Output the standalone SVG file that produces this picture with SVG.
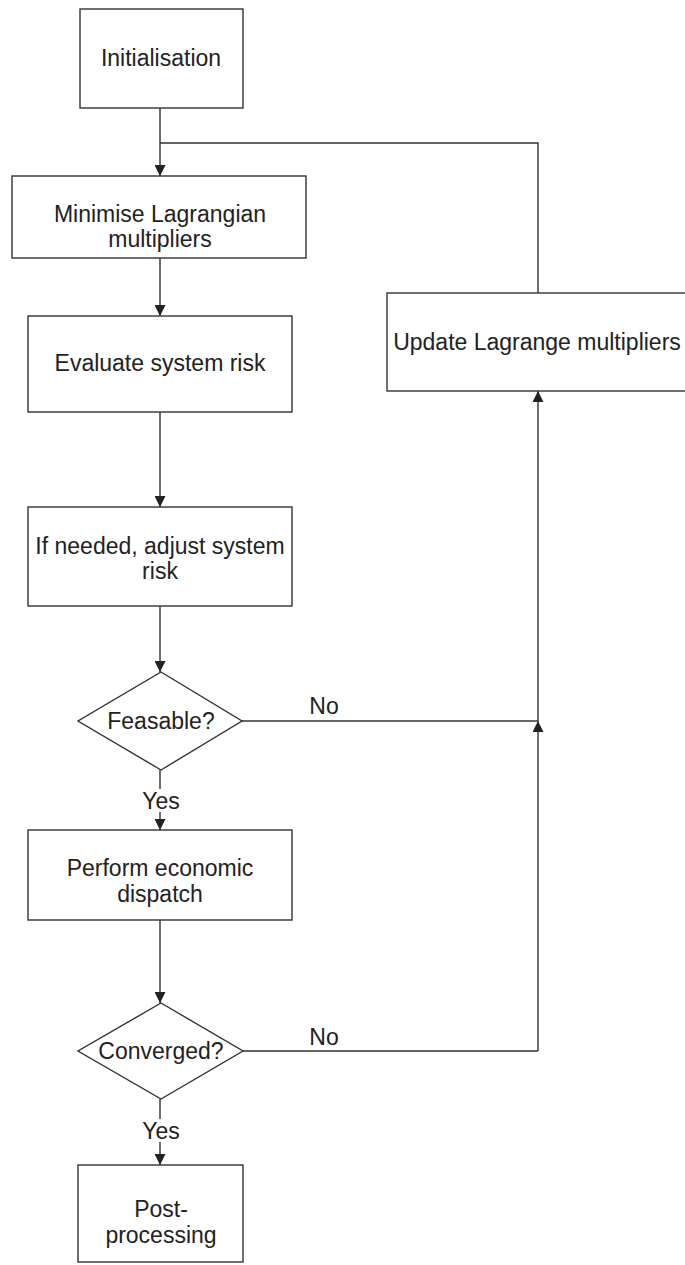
<svg xmlns="http://www.w3.org/2000/svg" width="685" height="1265" viewBox="0 0 685 1265">
  <style>
    .box { fill: #fff; stroke: #333; stroke-width: 1.4; }
    .lbl { font-family: "Liberation Sans", Arial, sans-serif; font-size: 23px; fill: #222; text-anchor: middle; }
    .edge { fill: none; stroke: #333; stroke-width: 1.4; }
  </style>
  <defs>
    <marker id="arrow" viewBox="0 0 10 10" refX="10" refY="5" markerWidth="11" markerHeight="11" markerUnits="userSpaceOnUse" orient="auto">
      <path d="M0,0 L10,5 L0,10 z" fill="#222"/>
    </marker>
  </defs>
  <rect width="685" height="1265" fill="#fff"/>

  <!-- connectors -->
  <g id="connectors">
    <line class="edge" x1="160" y1="108" x2="160" y2="176" marker-end="url(#arrow)"/>
    <polyline class="edge" points="538,293 538,143 160,143"/>
    <line class="edge" x1="160" y1="258" x2="160" y2="316" marker-end="url(#arrow)"/>
    <line class="edge" x1="160" y1="412" x2="160" y2="507" marker-end="url(#arrow)"/>
    <line class="edge" x1="160" y1="606" x2="160" y2="672" marker-end="url(#arrow)"/>
    <line class="edge" x1="242" y1="721" x2="538" y2="721"/>
    <line class="edge" x1="160" y1="770" x2="160" y2="830" marker-end="url(#arrow)"/>
    <line class="edge" x1="160" y1="920" x2="160" y2="1003" marker-end="url(#arrow)"/>
    <line class="edge" x1="243" y1="1051" x2="538" y2="1051"/>
    <line class="edge" x1="538" y1="1051" x2="538" y2="721" marker-end="url(#arrow)"/>
    <line class="edge" x1="538" y1="721" x2="538" y2="391" marker-end="url(#arrow)"/>
    <line class="edge" x1="160" y1="1099" x2="160" y2="1165" marker-end="url(#arrow)"/>
    <rect x="144" y="789" width="34" height="23" fill="#fff"/>
    <text class="lbl" x="161" y="809">Yes</text>
    <rect x="144" y="1119" width="34" height="23" fill="#fff"/>
    <text class="lbl" x="161" y="1139">Yes</text>
    <text class="lbl" x="324" y="714">No</text>
    <text class="lbl" x="324" y="1045">No</text>
  </g>

  <g id="init">
    <rect class="box" x="80" y="9" width="163" height="99"/>
    <text class="lbl" x="161" y="66">Initialisation</text>
  </g>

  <g id="minimise">
    <rect class="box" x="12" y="176" width="294" height="82"/>
    <text class="lbl" x="160" y="222">Minimise Lagrangian</text>
    <text class="lbl" x="160" y="247">multipliers</text>
  </g>

  <g id="evaluate">
    <rect class="box" x="28" y="316" width="264" height="96"/>
    <text class="lbl" x="160" y="371">Evaluate system risk</text>
  </g>

  <g id="adjust">
    <rect class="box" x="28" y="507" width="264" height="99"/>
    <text class="lbl" x="160" y="554">If needed, adjust system</text>
    <text class="lbl" x="160" y="579">risk</text>
  </g>

  <g id="feasible">
    <polygon class="box" points="161,672 242,721 161,770 78,721"/>
    <text class="lbl" x="161" y="729">Feasable?</text>
  </g>

  <g id="dispatch">
    <rect class="box" x="28" y="830" width="264" height="90"/>
    <text class="lbl" x="160" y="876">Perform economic</text>
    <text class="lbl" x="160" y="902">dispatch</text>
  </g>

  <g id="converged">
    <polygon class="box" points="161,1003 243,1051 161,1099 78,1051"/>
    <text class="lbl" x="161" y="1059">Converged?</text>
  </g>

  <g id="post">
    <rect class="box" x="78" y="1165" width="165" height="97"/>
    <text class="lbl" x="161" y="1217">Post-</text>
    <text class="lbl" x="161" y="1243">processing</text>
  </g>

  <g id="update">
    <rect class="box" x="387" y="293" width="310" height="98"/>
    <text class="lbl" x="537" y="350">Update Lagrange multipliers</text>
  </g>
</svg>
